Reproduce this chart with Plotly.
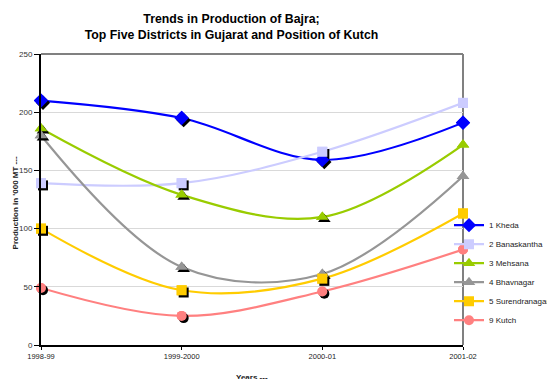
import plotly.graph_objects as go

years = ["1998-99", "1999-2000", "2000-01", "2001-02"]
kheda = [210, 195, 159, 191]
banaskantha = [139, 139, 166, 208]
mehsana = [186, 129, 110, 172]
bhavnagar = [180, 67, 61, 145]
surendranagar = [100, 47, 57, 113]
kutch = [49, 25, 46, 82]

series_names = ["1 Kheda", "2 Banaskantha", "3 Mehsana", "4 Bhavnagar", "5 Surendranagar", "9 Kutch"]
series_values = [kheda, banaskantha, mehsana, bhavnagar, surendranagar, kutch]
colors = ["#0000FF", "#CCCCFF", "#99CC00", "#969696", "#FFCC00", "#FF8080"]
symbols = ["diamond", "square", "triangle-up", "triangle-up", "square", "circle"]
sizes = [11, 10, 11, 11, 10, 10]

FONT = "Liberation Sans, Arial, sans-serif"

fig = go.Figure()

PW, PH = 422, 291
dx = 2 * 3 / PW
dy = 2.2 * 250 / PH

# main lines (base axes)
for name, vals, col, sym, sz in zip(series_names, series_values, colors, symbols, sizes):
    fig.add_trace(go.Scatter(
        x=years, y=vals, name=name, mode="lines+markers",
        line=dict(color=col, width=2.2, shape="spline", smoothing=1.0),
        marker=dict(symbol=sym, size=sz, color=col),
        cliponaxis=False))

# marker shadows (shifted overlay axes)
for vals, sym, sz in zip(series_values, symbols, sizes):
    fig.add_trace(go.Scatter(
        x=years, y=vals, mode="markers", xaxis="x2", yaxis="y2",
        marker=dict(symbol=sym, size=sz, color="black"),
        showlegend=False, hoverinfo="skip", cliponaxis=False))

# markers on top of shadows
for vals, col, sym, sz in zip(series_values, colors, symbols, sizes):
    fig.add_trace(go.Scatter(
        x=years, y=vals, mode="markers", xaxis="x3", yaxis="y3",
        marker=dict(symbol=sym, size=sz, color=col),
        showlegend=False, hoverinfo="skip", cliponaxis=False))

fig.update_layout(
    width=547, height=379,
    margin=dict(l=41, r=84, t=54, b=34, autoexpand=False),
    paper_bgcolor="white", plot_bgcolor="white",
    font=dict(family=FONT, size=8, color="#222222"),
    title=dict(
        text="Trends in Production of Bajra;<br>Top Five Districts in Gujarat and Position of Kutch",
        x=231.5 / 547, xref="container", xanchor="center",
        y=1 - 23 / 379, yref="container", yanchor="top",
        font=dict(family=FONT, size=12.3, color="black", weight="bold")),
    xaxis=dict(type="category", categoryorder="array", categoryarray=years,
               range=[0, 3], showline=True, linecolor="black", linewidth=2,
               ticks="outside", ticklen=3, tickcolor="black", tickwidth=1,
               tickfont=dict(size=7.5, color="#222222"), showgrid=False, zeroline=False),
    yaxis=dict(range=[0, 250], dtick=50, showline=True, linecolor="black", linewidth=2,
               ticks="outside", ticklen=5, tickcolor="black", tickwidth=1,
               tickfont=dict(size=8, color="#333333"),
               showgrid=True, gridcolor="#D9D9D9", gridwidth=1, zeroline=False),
    xaxis2=dict(type="category", categoryorder="array", categoryarray=years,
                overlaying="x", range=[-dx, 3 - dx], visible=False),
    yaxis2=dict(overlaying="y", range=[dy, 250 + dy], visible=False),
    xaxis3=dict(type="category", categoryorder="array", categoryarray=years,
                overlaying="x", range=[0, 3], visible=False),
    yaxis3=dict(overlaying="y", range=[0, 250], visible=False),
    legend=dict(x=(449 - 41) / PW, xanchor="left", y=(345.3 - 273) / PH, yanchor="middle",
                font=dict(family=FONT, size=8, color="#222222"),
                bgcolor="rgba(0,0,0,0)", itemwidth=30, tracegroupgap=0),
    shapes=[
        dict(type="line", xref="paper", yref="paper", x0=0, x1=1, y0=1, y1=1,
             line=dict(color="#808080", width=2), layer="between"),
        dict(type="line", xref="paper", yref="paper", x0=1, x1=1, y0=0, y1=1,
             line=dict(color="#808080", width=2), layer="between"),
    ],
    annotations=[
        dict(text="Production in '000 MT ---", xref="paper", yref="paper",
             x=(15.7 - 41) / PW, y=(345.3 - 203) / PH, xanchor="center", yanchor="middle",
             textangle=-90, showarrow=False,
             font=dict(family=FONT, size=8, color="#222222", weight="bold")),
        dict(text="Years ---", xref="paper", yref="paper",
             x=(252 - 41) / PW, y=(345.3 - 371) / PH, xanchor="center", yanchor="top",
             showarrow=False,
             font=dict(family=FONT, size=8, color="#222222", weight="bold")),
    ],
)

fig.write_html("out.html", config={"displayModeBar": False},
               post_script="document.body.style.margin='0';")
